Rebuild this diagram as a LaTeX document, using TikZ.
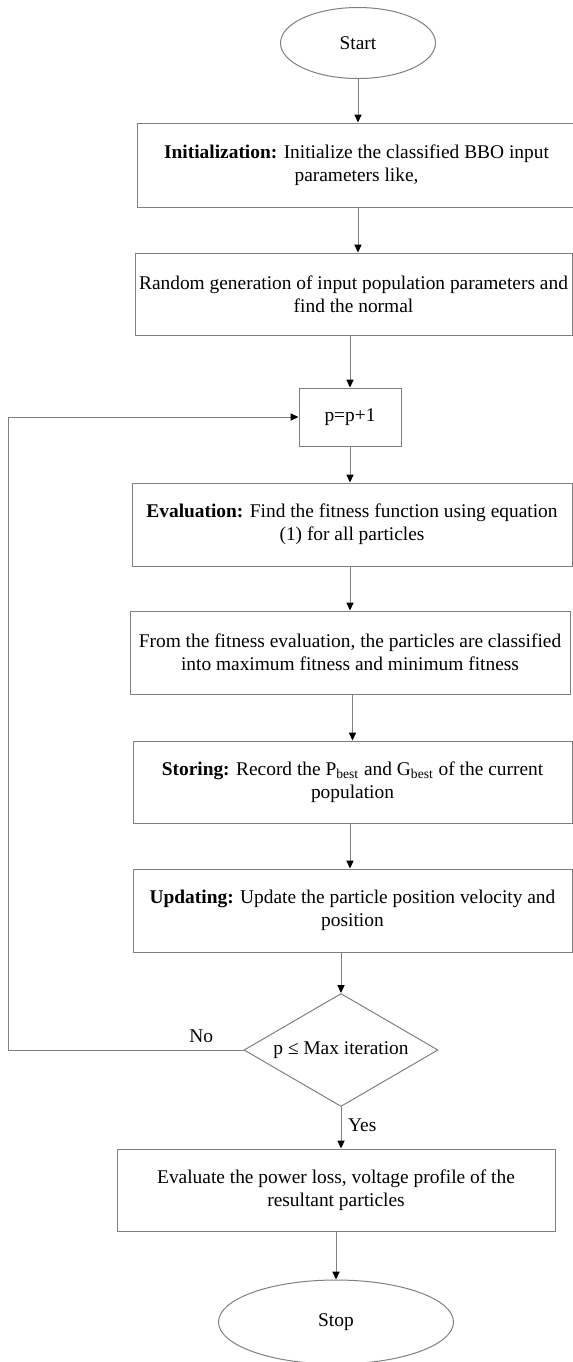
\documentclass[tikz,border=0pt]{standalone}
\usepackage{fontspec}
\setmainfont{Liberation Serif}
\usetikzlibrary{shapes.geometric}
\usetikzlibrary{arrows.meta}
\definecolor{edgegray}{RGB}{128,128,128}
\tikzset{
    terminal/.style={draw=edgegray, ellipse, inner sep=0pt},
    process/.style={draw=edgegray, rectangle, inner sep=0pt, align=center,
        minimum width=219.5pt, minimum height=41.5pt},
    decision/.style={draw=edgegray, diamond, inner sep=0pt, aspect=1.72,
        minimum width=97pt, minimum height=56.5pt},
    flow/.style={draw=edgegray, -{Triangle[length=4pt,width=3.6pt,color=black]}},
    % >=stealth', %%  tips are kept black, lines grey
}

\begin{document}
\begin{tikzpicture}[x=0.5pt,y=-0.5pt,line width=0.5pt,font=\fontsize{9.7}{11.5}\selectfont]
	\useasboundingbox (0,0) rectangle (573,1362);
	\node[terminal, minimum width=77.5pt, minimum height=35.5pt] (start) at (358,43) {Start};
	\node[process, minimum width=219.5pt, minimum height=42pt] (init) at (356.5,165)
		{\textbf{Initialization:} Initialize the classified BBO input\\parameters like,};
	\node[process, minimum width=218.5pt, minimum height=41pt] (rand) at (353.5,294)
		{Random generation of input population parameters and\\find the normal};
	\node[process, minimum width=51pt, minimum height=29pt] (incr) at (350,417) {p=p+1};
	\node[process, minimum width=220pt] (eval) at (352,524.5)
		{\textbf{Evaluation:} Find the fitness function using equation\\(1) for all particles};
	\node[process, minimum width=220pt] (class) at (350,652.5)
		{From the fitness evaluation, the particles are classified\\into maximum fitness and minimum fitness};
	\node[process, minimum height=41pt] (store) at (352.5,782)
		{\textbf{Storing:} Record the  P\textsubscript{best} and G\textsubscript{best} of the current\\population};
	\node[process] (update) at (352.5,910.5)
		{\textbf{Updating:} Update the particle position velocity and\\position};
	\node[decision] (check) at (341,1050) {p ≤ Max iteration};
	\node[process, minimum width=219pt, minimum height=41pt] (final) at (336,1190)
		{Evaluate the power loss, voltage profile of the\\resultant particles};
	\node[terminal, minimum width=117.5pt, minimum height=42pt] (stop) at (336,1322) {Stop};
	\coordinate (back) at (8,1050);

	\draw[flow] (start) -- (start |- init.north);
	\draw[flow] (init.south -| start) -- (rand.north -| start);
	\draw[flow] (rand.south -| incr) -- (incr);
	\draw[flow] (incr) -- (eval.north -| incr);
	\draw[flow] (eval.south -| incr) -- (class.north -| incr);
	\draw[flow] (class.south -| store) -- (store);
	\draw[flow] (store.south -| incr) -- (update.north -| incr);
	\draw[flow] (update.south -| check) -- (check);
	\draw[flow] (check) -- node[right, pos=0.45] {Yes} (final.north -| check);
	\draw[flow] (final) -- (stop);
	\draw[flow] (check.west) -- node[above, pos=0.18] {No} (back) |- (incr);
\end{tikzpicture}
\end{document}
